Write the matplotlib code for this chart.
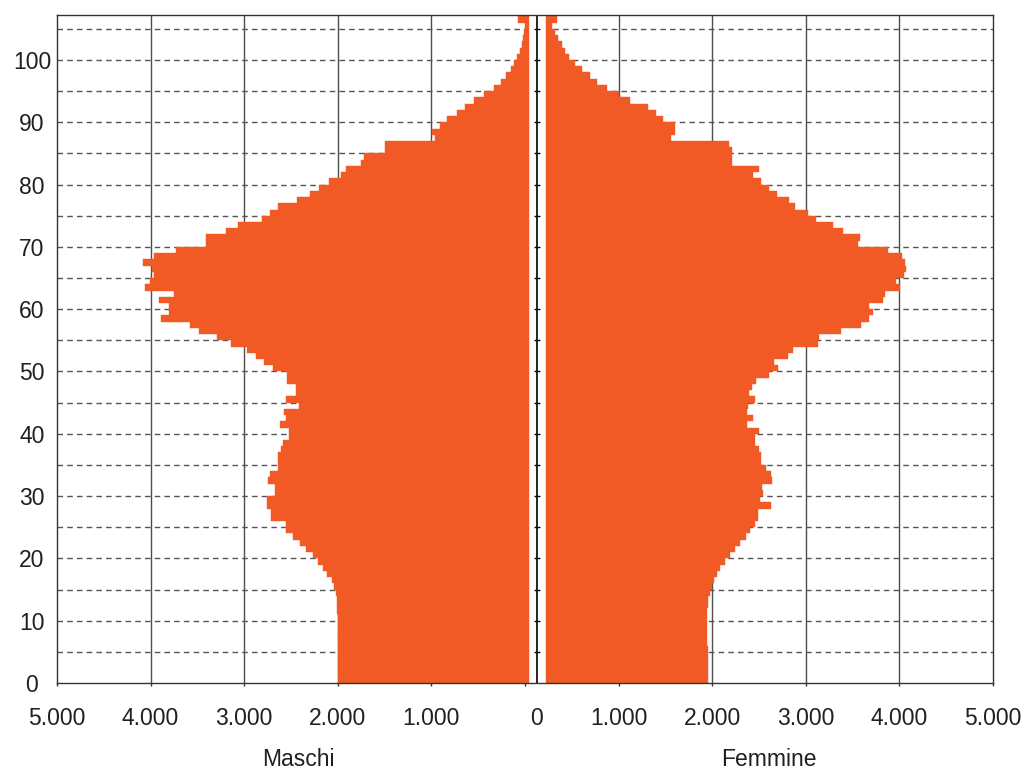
import matplotlib
matplotlib.use('Agg')
import matplotlib.pyplot as plt
import numpy as np

plt.rcParams['font.family'] = ['Liberation Sans', 'DejaVu Sans']

# eta 0..106 (l'ultima classe e' quella aperta)
eta = np.arange(107)

maschi = [
    2000, 2000, 2000, 1995, 1995, 1995, 1995, 2000, 2000, 2000,   # 0-9
    2000, 2005, 2005, 2010, 2019, 2040, 2065, 2112, 2161, 2208,   # 10-19
    2268, 2340, 2404, 2475, 2553, 2553, 2713, 2713, 2753, 2753,   # 20-29
    2671, 2671, 2742, 2724, 2642, 2642, 2642, 2607, 2585, 2518,   # 30-39
    2518, 2617, 2553, 2575, 2411, 2557, 2450, 2450, 2539, 2539,   # 40-49
    2689, 2788, 2874, 2973, 3141, 3294, 3483, 3579, 3889, 3800,   # 50-59
    3800, 3914, 3750, 4060, 4006, 3960, 3988, 4085, 3960, 3729,   # 60-69
    3408, 3408, 3194, 3063, 2806, 2724, 2642, 2439, 2297, 2201,   # 70-79
    2090, 1969, 1912, 1752, 1717, 1496, 1496, 965, 990, 912,      # 80-89
    833, 726, 641, 541, 438, 328, 256, 203, 150, 117,             # 90-99
    85, 55, 35, 20, 10, 5, 78,                                    # 100-106
]

femmine = [
    1955, 1955, 1955, 1955, 1955, 1955, 1948, 1948, 1948, 1948,   # 0-9
    1948, 1948, 1955, 1958, 1976, 1994, 2019, 2048, 2088, 2137,   # 10-19
    2190, 2244, 2297, 2365, 2400, 2460, 2493, 2493, 2625, 2510,   # 20-29
    2539, 2528, 2635, 2625, 2575, 2518, 2518, 2503, 2461, 2461,   # 30-39
    2497, 2368, 2439, 2375, 2386, 2457, 2397, 2422, 2468, 2610,   # 40-49
    2706, 2660, 2810, 2867, 3125, 3144, 3373, 3590, 3679, 3715,   # 50-59
    3679, 3828, 3850, 4006, 3960, 4045, 4067, 4055, 4024, 3875,   # 60-69
    3560, 3579, 3401, 3287, 3109, 3020, 2885, 2821, 2692, 2607,   # 70-79
    2521, 2440, 2497, 2208, 2208, 2208, 2179, 1560, 1603, 1603,   # 80-89
    1471, 1400, 1318, 1122, 1008, 873, 766, 698, 612, 534,        # 90-99
    470, 427, 392, 355, 320, 285, 345,                            # 100-106
]

tick_valori = [-5000, -4000, -3000, -2000, -1000, 0, 1000, 2000, 3000, 4000, 5000]
tick_etichette = ['5.000', '4.000', '3.000', '2.000', '1.000', '',
                  '1.000', '2.000', '3.000', '4.000', '5.000']
eta_ticks = [0, 10, 20, 30, 40, 50, 60, 70, 80, 90, 100]

arancio = '#F15A24'
grigio = '#4d4d4d'
testo = '#231F20'

# fascia bianca centrale (in unita' dell'asse x)
fine_maschi = 43
inizio_femmine = 224
centro = 128

fig = plt.figure(figsize=(10.32, 7.71), dpi=100)
ax = fig.add_axes([57 / 1032, 88 / 771, 936 / 1032, 668 / 771])

m = np.array(maschi)
f = np.array(femmine)

# griglia
for x in [-4000, -3000, -2000, -1000, 1000, 2000, 3000, 4000]:
    ax.axvline(x, color=grigio, lw=1, zorder=1)
for y in range(5, 106, 5):
    ax.axhline(y, color='#555555', lw=1, ls=(0, (4, 3)), zorder=1)

ax.axvspan(fine_maschi, inizio_femmine, color='white', lw=0, zorder=2)

# barre
ax.barh(eta, m + fine_maschi, left=-m, height=1, align='edge',
        color=arancio, edgecolor=arancio, linewidth=0.3, zorder=3)
ax.barh(eta, f - inizio_femmine, left=inizio_femmine, height=1, align='edge',
        color=arancio, edgecolor=arancio, linewidth=0.3, zorder=3)

# asse centrale con tacche ogni 5 anni
ax.axvline(centro, color='black', lw=1.2, zorder=4)
ax.plot([centro] * 21, list(range(5, 106, 5)), ls='none', marker='_',
        ms=5, mew=1, color='black', zorder=5)

ax.set_xlim(-5000, 5000)
ax.set_ylim(0, 668 / 6.23)

ax.set_xticks(tick_valori)
ax.set_xticklabels(tick_etichette)
ax.set_xticks([centro], labels=['0'], minor=True)
ax.tick_params(axis='x', which='major', direction='out', length=2.5,
               width=1, color='#333333', pad=15, labelsize=16.5, labelcolor=testo)
ax.tick_params(axis='x', which='minor', length=0, pad=17.5,
               labelsize=16.5, labelcolor=testo)
ax.set_yticks(eta_ticks)
ax.tick_params(axis='y', length=0, pad=18, labelsize=16.5, labelcolor=testo)
for lab in ax.get_yticklabels():
    lab.set_horizontalalignment('center')

for s in ax.spines.values():
    s.set_color('#333333')
    s.set_linewidth(1)
    s.set_zorder(6)

fig.text(298 / 1032, 1 - 760 / 771, 'Maschi', ha='center', va='center',
         fontsize=16.5, color=testo)
fig.text(769 / 1032, 1 - 760 / 771, 'Femmine', ha='center', va='center',
         fontsize=16.5, color=testo)

fig.savefig('out.png', dpi=100)
